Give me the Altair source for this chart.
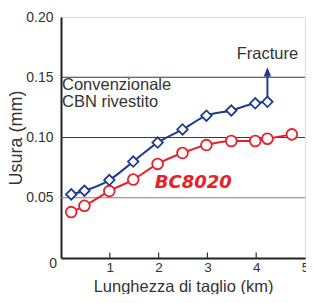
import altair as alt
import pandas as pd

# --- data ---
blue_x = [0.21, 0.48, 0.99, 1.48, 1.98, 2.49, 2.98, 3.49, 3.98, 4.23]
blue_y = [0.0528, 0.0558, 0.0647, 0.0800, 0.0958, 0.1067, 0.1181, 0.1224, 0.1284, 0.1296]
red_x = [0.21, 0.48, 0.99, 1.48, 1.98, 2.49, 2.98, 3.49, 3.98, 4.23, 4.73]
red_y = [0.0381, 0.0433, 0.0555, 0.0651, 0.0781, 0.0871, 0.0937, 0.0971, 0.0971, 0.0990, 0.1026]
grid_y = [0.05, 0.10, 0.15]
x_ticks = [1, 2, 3, 4]
x_labels = [1, 2, 3, 4, 5]
y_labels = [0.05, 0.10, 0.15, 0.20]
fracture_x = 4.23
fracture_from = 0.1296
fracture_to = 0.152
fracture_head = 0.1545
fracture_label_y = 0.1649
conv_lines = ["Convenzionale", "CBN rivestito"]
conv_y = [0.1396, 0.1257]
bc_label = "BC8020"
bc_pos = (1.92, 0.058)

BLUE = "#1f3c94"
RED = "#e8202a"
TEXT = "#333333"
FONT = "Liberation Sans"

xs = alt.Scale(domain=[0, 5], nice=False, zero=True)
ys = alt.Scale(domain=[0, 0.2], nice=False)

blue_df = pd.DataFrame({"x": blue_x, "y": blue_y})
red_df = pd.DataFrame({"x": red_x, "y": red_y})

X = alt.X("x:Q", scale=xs, axis=alt.Axis(
    values=x_labels, title="Lunghezza di taglio (km)", grid=False, ticks=False, tickSize=0,
    domainColor="#222222", domainWidth=2, labelFontSize=13.5, labelColor=TEXT,
    labelFont=FONT, labelPadding=2, titleFont=FONT, titleFontSize=16.5,
    titleFontWeight="normal", titleColor=TEXT, titleBaseline="alphabetic",
    titleY=33, labelFlush=False, labelOverlap=False))
Y = alt.Y("y:Q", scale=ys, axis=alt.Axis(
    values=y_labels, format=".2f", title="Usura (mm)", grid=False, ticks=False, tickSize=0,
    domainColor="#222222", domainWidth=2, labelFontSize=14, labelColor=TEXT,
    labelFont=FONT, labelPadding=8, titleFont=FONT, titleFontSize=18,
    titleFontWeight="normal", titleColor=TEXT, titleX=-45, titleY=120.5,
    titleBaseline="middle", labelFlush=False, labelOverlap=False))

grid = alt.Chart(pd.DataFrame({"y": grid_y})).mark_rule(strokeWidth=1.2).encode(
    y=alt.Y("y:Q", scale=ys),
    color=alt.condition("datum.y < 0.07", alt.value("#8a8170"), alt.value("#3a3a3a")),
)

ticks = alt.Chart(pd.DataFrame({"x": x_ticks})).mark_rule(color="#333333", strokeWidth=1.2).encode(
    x=alt.X("x:Q", scale=xs), y=alt.datum(0, scale=ys), y2=alt.datum(0.0045),
)

blue_line = alt.Chart(blue_df).mark_line(color=BLUE, strokeWidth=2, interpolate="monotone").encode(x=X, y=Y)
red_line = alt.Chart(red_df).mark_line(color=RED, strokeWidth=2, interpolate="monotone").encode(x=X, y=Y)

arrow_df = pd.DataFrame({"x": [fracture_x], "y": [fracture_from], "y2": [fracture_to], "yh": [fracture_head]})
arrow_line = alt.Chart(arrow_df).mark_rule(color=BLUE, strokeWidth=2).encode(
    x=alt.X("x:Q", scale=xs), y=alt.Y("y:Q", scale=ys), y2="y2:Q")
arrow_head = alt.Chart(arrow_df).mark_point(
    shape="M0,-1L-0.8,1L0.8,1Z", filled=True, color=BLUE, size=86, opacity=1).encode(
    x=alt.X("x:Q", scale=xs), y=alt.Y("yh:Q", scale=ys))

blue_pts = alt.Chart(blue_df).mark_point(
    shape="diamond", filled=False, fill="white", fillOpacity=1, stroke=BLUE,
    strokeWidth=1.8, size=110, opacity=1).encode(x=alt.X("x:Q", scale=xs), y=alt.Y("y:Q", scale=ys))
red_pts = alt.Chart(red_df).mark_point(
    shape="circle", filled=False, fill="white", fillOpacity=1, stroke=RED,
    strokeWidth=1.8, size=115, opacity=1).encode(x=alt.X("x:Q", scale=xs), y=alt.Y("y:Q", scale=ys))

conv_text = alt.Chart(pd.DataFrame({"t": conv_lines, "y": conv_y})).mark_text(
    align="left", baseline="alphabetic", font=FONT, fontSize=16.5, color=TEXT, dx=1).encode(
    x=alt.datum(0, scale=xs), y=alt.Y("y:Q", scale=ys), text="t:N")

frac_text = alt.Chart(pd.DataFrame({"t": ["Fracture"], "x": [fracture_x], "y": [fracture_label_y]})).mark_text(
    align="center", baseline="alphabetic", font=FONT, fontSize=16.5, color=TEXT).encode(
    x=alt.X("x:Q", scale=xs), y=alt.Y("y:Q", scale=ys), text="t:N")

bc_text = alt.Chart(pd.DataFrame({"t": [bc_label], "x": [bc_pos[0]], "y": [bc_pos[1]]})).mark_text(
    align="left", baseline="alphabetic", font="DejaVu Sans", fontSize=18, fontWeight="bold",
    fontStyle="italic", color=RED).encode(
    x=alt.X("x:Q", scale=xs), y=alt.Y("y:Q", scale=ys), text="t:N")

zero_text = alt.Chart(pd.DataFrame({"t": ["0"]})).mark_text(
    align="right", baseline="middle", font=FONT, fontSize=14, color=TEXT, dx=-4, dy=6).encode(
    x=alt.datum(0, scale=xs), y=alt.datum(0, scale=ys), text="t:N")

base = alt.Chart(blue_df).mark_point(opacity=0).encode(x=X, y=Y)

chart = alt.layer(
    base, grid, ticks, red_line, blue_line, arrow_line, arrow_head, red_pts, blue_pts,
    conv_text, frac_text, bc_text, zero_text,
).properties(
    width=244, height=241,
    autosize=alt.AutoSizeParams(type="none"),
    padding={"left": 53, "top": 9, "right": 1, "bottom": 36},
).configure_view(
    fill="#fdf0d3", stroke="#333333", strokeWidth=1.5,
).configure(background="white")

chart.save("out.html", embed_options={"renderer": "svg", "actions": False})
